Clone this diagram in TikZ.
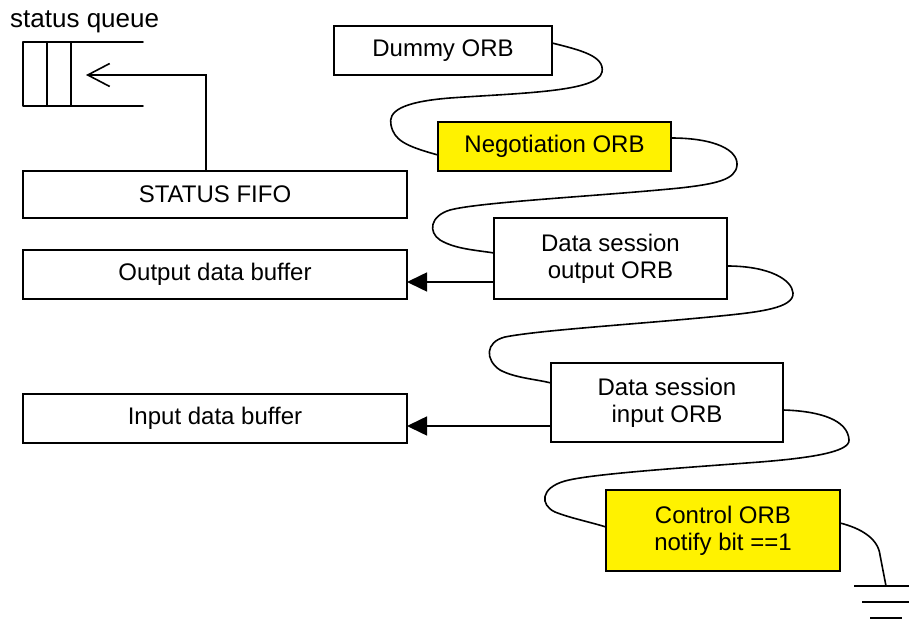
\documentclass[tikz,border=0pt]{standalone}
\usepackage{fontspec}
\setmainfont{Liberation Sans}
\usetikzlibrary{arrows.meta,calc}
\begin{document}
\begin{tikzpicture}[x=1pt,y=-1pt,
  box/.style={draw=black, line width=1.6pt, rectangle, inner sep=0pt, outer sep=0pt,
    align=center, font=\fontsize{24}{27}\selectfont},
  hl/.style={box, fill=yellow},
  wire/.style={line width=1.6pt, line cap=round, line join=round},
  feed/.style={line width=1.6pt, -{Triangle[length=20pt,width=19pt]}},
  pull/.style={line width=1.6pt, -{Straight Barb[length=22pt,width=23pt,line width=1.6pt]}}]
\useasboundingbox (0,0) rectangle (909,620);

% status queue
\node[anchor=base west, inner sep=0pt, font=\fontsize{26}{30}\selectfont] (sqlabel) at (10,28) {status queue};
\draw[wire] (143,42) -- (23,42) -- (23,106) -- (143,106);
\draw[wire] (47,42) -- (47,106);
\draw[wire] (71,42) -- (71,106);
\coordinate (qin) at (86,75);

% left boxes
\node[box, minimum width=384pt, minimum height=47pt] (fifo) at (215,194.5) {STATUS FIFO};
\node[box, minimum width=384pt, minimum height=49pt] (outbuf) at (215,274.5) {Output data buffer};
\node[box, minimum width=384pt, minimum height=49pt] (inbuf) at (215,418.5) {Input data buffer};

% ORB chain
\node[box, minimum width=218pt, minimum height=49pt] (dummy) at (443,50.5) {Dummy ORB};
\node[hl, minimum width=233pt, minimum height=49pt] (nego) at (554.5,146.5) {Negotiation ORB};
\node[box, minimum width=233pt, minimum height=81pt] (dout) at (610.5,258.5) {Data session\\output ORB};
\node[box, minimum width=232pt, minimum height=79pt] (din) at (667,402.5) {Data session\\input ORB};
\node[hl, minimum width=234pt, minimum height=81pt] (ctrl) at (723,530.5) {Control ORB\\notify bit ==1};

% status fifo to queue
\draw[pull] ([xshift=-9pt]fifo.north) |- (qin);

% data arrows
\draw[feed] ([yshift=-23.5pt]dout.west) -- ([yshift=-23.5pt]dout.west -| outbuf.east);
\draw[feed] ([yshift=-23.5pt]din.west) -- ([yshift=-23.5pt]din.west -| inbuf.east);

% wiggly links
\draw[wire] ([yshift=7.5pt]dummy.east) .. controls (580,50) and (605,56) .. (602,72)
  .. controls (598,92) and (520,93) .. (450,98)
  .. controls (400,102) and (388,112) .. (391,125)
  .. controls (394,140) and (405,146) .. ([yshift=-8.5pt]nego.west);

\draw[wire] ([yshift=8.5pt]nego.east) .. controls (715,138) and (738,150) .. (737,165)
  .. controls (736,180) and (715,184) .. (680,188)
  .. controls (600,196) and (480,202) .. (450,210)
  .. controls (430,216) and (428,232) .. (440,240)
  .. controls (455,249) and (475,250) .. ([yshift=5.5pt]dout.west);

\draw[wire] ([yshift=-7.5pt]dout.east) .. controls (770,266) and (792,280) .. (793,293)
  .. controls (794,308) and (760,312) .. (720,316)
  .. controls (640,324) and (540,330) .. (505,337)
  .. controls (485,342) and (485,360) .. (500,370)
  .. controls (515,378) and (535,379) .. ([yshift=19.5pt]din.west);

\draw[wire] ([yshift=-7.5pt]din.east) .. controls (820,411) and (848,420) .. (849,440)
  .. controls (850,452) and (810,458) .. (760,462)
  .. controls (680,468) and (590,474) .. (565,481)
  .. controls (540,488) and (540,505) .. (555,512)
  .. controls (570,518) and (590,522) .. ([yshift=3.5pt]ctrl.west);

% ground
\coordinate (gnd) at (886,586);
\draw[wire] ([yshift=7.5pt]ctrl.east) .. controls (860,528) and (878,538) .. (880,555) -- (gnd);
\draw[line width=1.6pt] ([xshift=-32pt]gnd) -- ([xshift=32pt]gnd);
\draw[line width=1.6pt] ($(gnd)+(-24,16)$) -- ($(gnd)+(24,16)$);
\draw[line width=1.6pt] ($(gnd)+(-16,32)$) -- ($(gnd)+(16,32)$);
\end{tikzpicture}
\end{document}
